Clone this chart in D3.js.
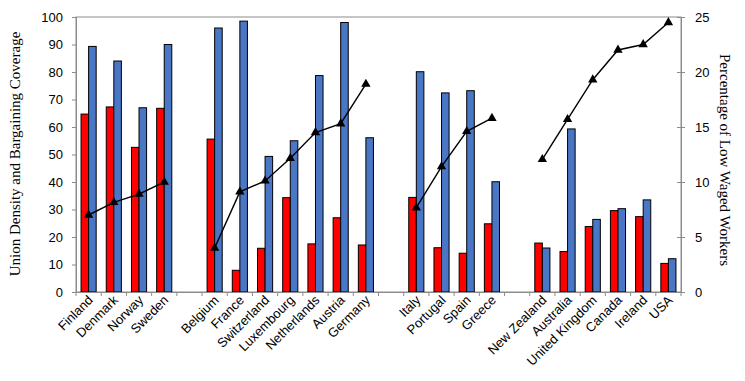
<!DOCTYPE html>
<html><head><meta charset="utf-8">
<script src="https://cdn.jsdelivr.net/npm/d3@7/dist/d3.min.js"></script>
<style>body{margin:0;background:#fff}svg{display:block}</style>
</head><body><svg id="c" width="745" height="381"></svg>
<script>
// "" marks an empty gap slot between country groups
const categories = ["Finland","Denmark","Norway","Sweden","","Belgium","France","Switzerland","Luxembourg","Netherlands","Austria","Germany","","Italy","Portugal","Spain","Greece","","New Zealand","Australia","United Kingdom","Canada","Ireland","USA"];
const unionDensity = [64.7,67.3,52.6,66.8,null,55.6,7.9,15.9,34.3,17.5,27.0,17.1,null,34.4,16.1,14.1,24.8,null,17.8,14.7,23.8,29.6,27.4,10.4];
const bargainingCoverage = [89.3,84.0,67.0,90.0,null,96.0,98.5,49.3,55.0,78.7,98.0,56.1,null,80.1,72.4,73.2,40.1,null,16.0,59.3,26.4,30.3,33.5,12.1];
const lowWaged = [7.0,8.15,8.9,10.0,null,4.0,9.1,10.1,12.15,14.5,15.3,18.9,null,7.66,11.4,14.6,15.8,null,12.06,15.7,19.3,22.0,22.5,24.5];
const leftTicks = [0,10,20,30,40,50,60,70,80,90,100];
const rightTicks = [0,5,10,15,20,25];

const svg = d3.select("#c");
const m = {l:76, r:681, t:17, b:292};
const idx = categories.map((d,i)=>i);
const x = d3.scaleBand().domain(idx).range([m.l,m.r]).paddingInner(0.4).paddingOuter(0.2);
const xs = d3.scaleBand().domain(idx).range([m.l,m.r]);
const y = d3.scaleLinear().domain([0,100]).range([m.b,m.t]);
const y2 = d3.scaleLinear().domain([0,25]).range([m.b,m.t]);
const sub = d3.scaleBand().domain(["u","b"]).range([0,x.bandwidth()]);
const grey = "#8c8c8c";

// frame
svg.append("rect").attr("x",m.l).attr("y",m.t).attr("width",m.r-m.l).attr("height",m.b-m.t)
  .attr("fill","none").attr("stroke",grey).attr("stroke-width",1);

// bars
const g = svg.append("g");
idx.forEach(i=>{
  if(unionDensity[i]!=null){
    g.append("rect").attr("x",x(i)+sub("u")).attr("y",y(unionDensity[i])).attr("width",sub.bandwidth())
      .attr("height",y(0)-y(unionDensity[i])).attr("fill","#ff0000").attr("stroke","#000").attr("stroke-width",1);
  }
  if(bargainingCoverage[i]!=null){
    g.append("rect").attr("x",x(i)+sub("b")).attr("y",y(bargainingCoverage[i])).attr("width",sub.bandwidth())
      .attr("height",y(0)-y(bargainingCoverage[i])).attr("fill","#4a76c6").attr("stroke","#000").attr("stroke-width",1);
  }
});

// bottom axis
const xAxis = d3.axisBottom(xs).tickSize(0).tickFormat("");
const xa = svg.append("g").attr("transform",`translate(0,${m.b})`).call(xAxis);
xa.select(".domain").attr("stroke",grey);
d3.range(categories.length+1).forEach(k=>{
  const px = m.l + k*xs.step();
  svg.append("line").attr("x1",px).attr("x2",px).attr("y1",m.b).attr("y2",m.b+4).attr("stroke",grey);
});
idx.forEach(i=>{
  if(!categories[i]) return;
  const cx = xs(i)+xs.bandwidth()/2;
  svg.append("text").attr("transform",`translate(${cx+5},${m.b+9}) rotate(-45)`)
    .attr("text-anchor","end").attr("font-family","Liberation Sans, Arial, sans-serif").attr("font-size",13)
    .attr("fill","#000").text(categories[i]);
});

// left axis
const ya = svg.append("g").attr("transform",`translate(${m.l},0)`)
  .call(d3.axisLeft(y).tickValues(leftTicks).tickSize(4).tickPadding(9));
ya.select(".domain").attr("stroke",grey);
ya.selectAll(".tick line").attr("stroke",grey);
ya.selectAll("text").attr("font-family","Liberation Sans, Arial, sans-serif").attr("font-size",13).attr("fill","#000");

// right axis
const ya2 = svg.append("g").attr("transform",`translate(${m.r},0)`)
  .call(d3.axisRight(y2).tickValues(rightTicks).tickSize(4).tickPadding(10));
ya2.select(".domain").attr("stroke",grey);
ya2.selectAll(".tick line").attr("stroke",grey).attr("x1",-4);
ya2.selectAll("text").attr("font-family","Liberation Sans, Arial, sans-serif").attr("font-size",13).attr("fill","#000");

// line
const cxf = i=>xs(i)+xs.bandwidth()/2;
const line = d3.line().defined(d=>d!=null).x((d,i)=>cxf(i)).y(d=>y2(d));
svg.append("path").attr("d",line(lowWaged)).attr("fill","none").attr("stroke","#000").attr("stroke-width",1.4);
const tri = d3.symbol().type(d3.symbolTriangle).size(38);
idx.forEach(i=>{
  if(lowWaged[i]==null) return;
  svg.append("path").attr("d",tri()).attr("transform",`translate(${cxf(i)},${y2(lowWaged[i])})`).attr("fill","#000");
});

// axis titles
svg.append("text").attr("transform",`translate(20,154) rotate(-90)`).attr("text-anchor","middle")
  .attr("font-family","Liberation Serif, Times New Roman, serif").attr("font-size",15).attr("fill","#000")
  .text("Union Density and Bargaining Coverage");
svg.append("text").attr("transform",`translate(720,160) rotate(90)`).attr("text-anchor","middle")
  .attr("font-family","Liberation Serif, Times New Roman, serif").attr("font-size",15).attr("fill","#000")
  .text("Percentage of Low Waged Workers");
</script></body></html>
